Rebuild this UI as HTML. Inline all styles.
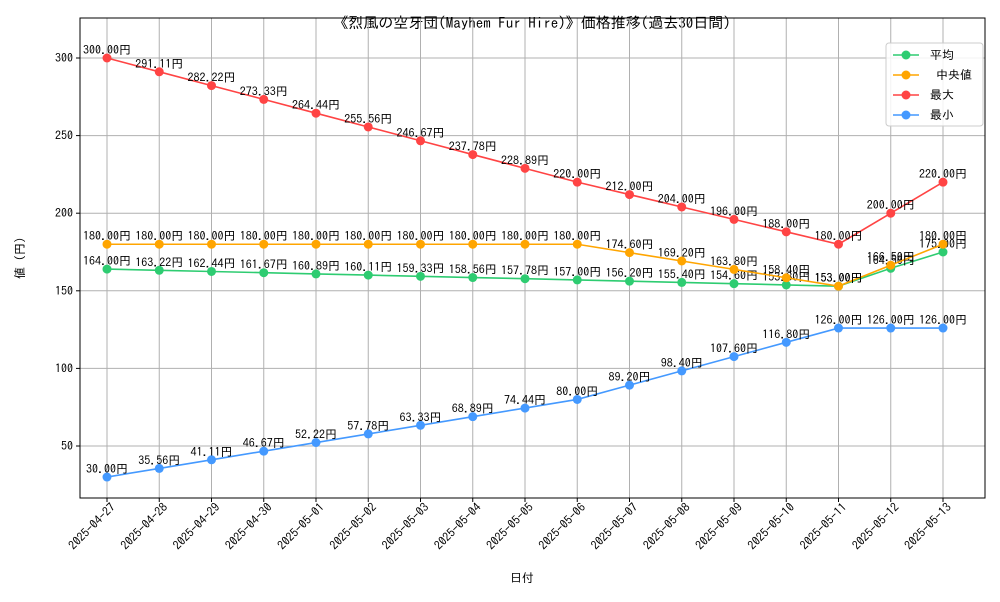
<!DOCTYPE html>
<html><head><meta charset="utf-8"><style>
body{margin:0;background:#fff;font-family:"IPAGothic","Liberation Sans","Noto Sans CJK JP",sans-serif;}
svg text{font-family:"IPAGothic","Noto Sans CJK JP",sans-serif;}
</style></head><body>
<svg id="chart" width="1000" height="600" xmlns="http://www.w3.org/2000/svg">
<rect width="1000" height="600" fill="#fff"/>
<text x="532" y="28" text-anchor="middle" font-size="15">《烈風の空牙団(Mayhem Fur Hire)》価格推移(過去30日間)</text>
<g id="grid"></g><g id="axes"></g><g id="series"></g>
<rect x="80" y="18" width="905" height="480" fill="none" stroke="#000" stroke-width="1"/>
<text x="522" y="582" text-anchor="middle" font-size="12">日付</text>
<text transform="translate(24,258) rotate(-90)" text-anchor="middle" font-size="12">値 (円)</text>
<g id="legend">
<rect x="886" y="43" width="97" height="83" fill="#fff" fill-opacity="0.85" stroke="#ccc" rx="3"/>
</g>
</svg>
<script>
const dates=["2025-04-27","2025-04-28","2025-04-29","2025-04-30","2025-05-01","2025-05-02","2025-05-03","2025-05-04","2025-05-05","2025-05-06","2025-05-07","2025-05-08","2025-05-09","2025-05-10","2025-05-11","2025-05-12","2025-05-13"];
const avgVals=[164,163.22,162.44,161.67,160.89,160.11,159.33,158.56,157.78,157,156.2,155.4,154.6,153.8,153,164.5,175];
const medVals=[180,180,180,180,180,180,180,180,180,180,174.6,169.2,163.8,158.4,153,166.5,180];
const maxVals=[300,291.11,282.22,273.33,264.44,255.56,246.67,237.78,228.89,220,212,204,196,188,180,200,220];
const minVals=[30,35.56,41.11,46.67,52.22,57.78,63.33,68.89,74.44,80,89.2,98.4,107.6,116.8,126,126,126];
const yTicks=[50,100,150,200,250,300];
const seriesNames=["平均"," 中央値","最大","最小"];
const NS="http://www.w3.org/2000/svg";
function xS(i){return 107+i*(943-107)/(dates.length-1);}
function yS(v){return 58+(300-v)*388/250;}
function mk(t,a,p){const e=document.createElementNS(NS,t);for(const k in a)e.setAttribute(k,a[k]);p.appendChild(e);return e;}
const grid=document.getElementById('grid'),axes=document.getElementById('axes'),ser=document.getElementById('series'),leg=document.getElementById('legend');
dates.forEach((d,i)=>{const x=xS(i);
const g=mk('line',{x1:x,x2:x,y1:18,y2:498,stroke:'#b0b0b0','stroke-width':1},grid);


mk('line',{x1:x,x2:x,y1:498,y2:502,stroke:'#000'},axes);
const tx=x+9;
const t=mk('text',{x:tx,y:508,'font-size':12,'text-anchor':'end',transform:`rotate(-45 ${tx} 508)`},axes);
t.textContent=d;

});
yTicks.forEach(v=>{const y=yS(v);
const g=mk('line',{x1:80,x2:985,y1:y,y2:y,stroke:'#b0b0b0','stroke-width':1},grid);


mk('line',{x1:76,x2:80,y1:y,y2:y,stroke:'#000'},axes);
const t=mk('text',{x:73,y:y+4,'font-size':12,'text-anchor':'end'},axes);
t.textContent=v;

});
const all=[[avgVals,'#2ecc71','avg'],[medVals,'#ffa500','median'],[maxVals,'#ff4444','max'],[minVals,'#4499ff','min']];
all.forEach(([vals,c,n],si)=>{
const p=mk('polyline',{points:vals.map((v,i)=>xS(i)+','+yS(v)).join(' '),fill:'none',stroke:c,'stroke-width':1.6},ser);


vals.forEach((v,i)=>{
const ci=mk('circle',{cx:xS(i),cy:yS(v),r:4.5,fill:c},ser);


const t=mk('text',{x:xS(i),y:yS(v)-4,'font-size':12,'text-anchor':'middle'},ser);
t.textContent=v.toFixed(2)+'円';

});
const ly=55+si*20;
const ll=mk('line',{x1:893,x2:919,y1:ly,y2:ly,stroke:c,'stroke-width':1.6},leg);


mk('circle',{cx:906,cy:ly,r:4.5,fill:c},leg);
const lt=mk('text',{x:930,y:ly+4,'font-size':12,'xml:space':'preserve'},leg);
lt.setAttribute('style','white-space:pre');
lt.textContent=seriesNames[si];

});
</script>
</body></html>
